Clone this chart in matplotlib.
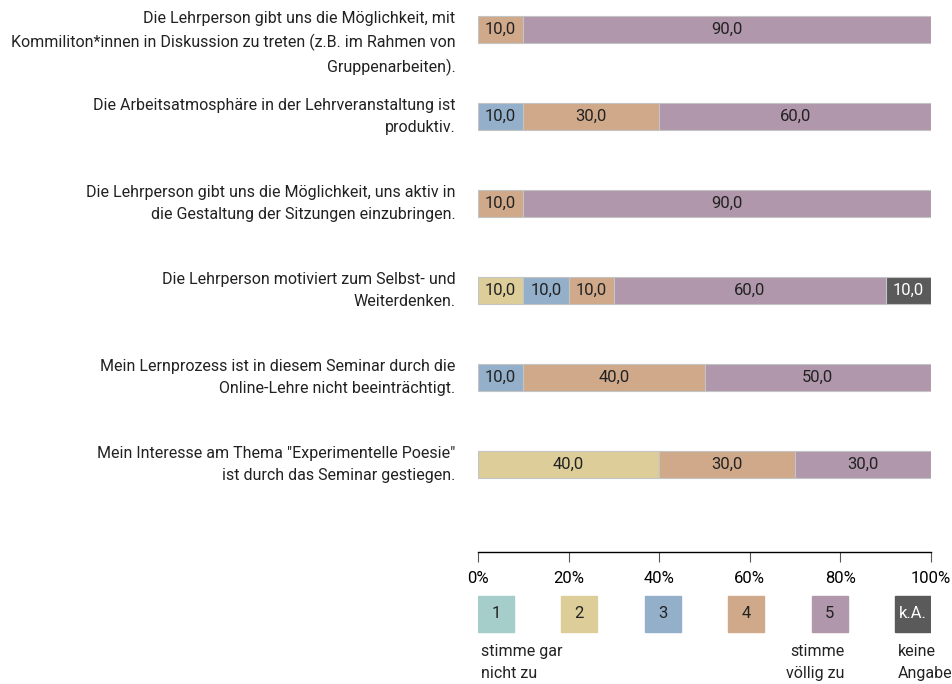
import numpy as np
import matplotlib.pyplot as plt
from matplotlib.patches import Rectangle

plt.rcParams['font.family'] = ['Roboto', 'DejaVu Sans']

questions = [
    "Die Lehrperson gibt uns die Möglichkeit, mit\nKommiliton*innen in Diskussion zu treten (z.B. im Rahmen von\nGruppenarbeiten).",
    "Die Arbeitsatmosphäre in der Lehrveranstaltung ist\nproduktiv.",
    "Die Lehrperson gibt uns die Möglichkeit, uns aktiv in\ndie Gestaltung der Sitzungen einzubringen.",
    "Die Lehrperson motiviert zum Selbst- und\nWeiterdenken.",
    "Mein Lernprozess ist in diesem Seminar durch die\nOnline-Lehre nicht beeinträchtigt.",
    "Mein Interesse am Thema \"Experimentelle Poesie\"\nist durch das Seminar gestiegen.",
]
categories = ["1", "2", "3", "4", "5", "k.A."]
cat_notes = ["stimme gar\nnicht zu", "", "", "", "stimme\nvöllig zu", "keine\nAngabe"]
colors = ["#a5cdc9", "#dccd99", "#93afc9", "#cfa98a", "#b097ab", "#5a5a5a"]

# percent per category (1, 2, 3, 4, 5, k.A.)
c1 = [0, 0, 0, 0, 0, 0]
c2 = [0, 0, 0, 10, 0, 40]
c3 = [0, 10, 0, 10, 10, 0]
c4 = [10, 30, 10, 10, 40, 30]
c5 = [90, 60, 90, 60, 50, 30]
ka = [0, 0, 0, 10, 0, 0]
values = np.array([c1, c2, c3, c4, c5, ka])

W, H = 953, 684
fig = plt.figure(figsize=(W / 100, H / 100), dpi=100)
x0, x1 = 478, 931
ax = fig.add_axes([x0 / W, 1 - 552 / H, (x1 - x0) / W, 552 / H])

y = np.arange(len(questions))
left = np.zeros(len(questions))
bh = 0.31
for i, cat in enumerate(categories):
    v = values[i]
    ax.barh(y, v, left=left, height=bh, color=colors[i],
            edgecolor="#c4c4c4", linewidth=0.8)
    for j in range(len(y)):
        if v[j] > 0:
            ax.text(left[j] + v[j] / 2, y[j], f"{v[j]:.1f}".replace(".", ","),
                    ha="center", va="center", fontsize=12,
                    color="white" if cat == "k.A." else "#222222")
    left += v

for j, q in enumerate(questions):
    ax.text(-5.0, y[j] - bh / 2 - 0.06, q, ha="right", va="top",
            fontsize=11.5, linespacing=1.6, color="#222222")

ax.set_xlim(0, 100)
ax.set_ylim(5 + 1.006, -0.339)
for s in ["top", "right", "left"]:
    ax.spines[s].set_visible(False)
ax.spines["bottom"].set_linewidth(1.0)
ax.set_yticks([])
ax.set_xticks(np.arange(0, 101, 20))
ax.set_xticklabels([f"{t}%" for t in range(0, 101, 20)], fontsize=12)
ax.tick_params(axis="x", length=7, color="#555555", pad=7)

# legend row
lg = fig.add_axes([x0 / W, 1 - 684 / H, (x1 - x0) / W, (684 - 590) / H])
lg.set_xlim(x0, x1)
lg.set_ylim(684, 590)
lg.axis("off")
box = 36
step = (x1 - x0 - box) / 5
for i, cat in enumerate(categories):
    bx = x0 + i * step
    lg.add_patch(Rectangle((bx, 596), box, 36, color=colors[i]))
    lg.text(bx + box / 2, 614, cat, ha="center", va="center", fontsize=12,
            color="white" if cat == "k.A." else "#222222")
    if cat_notes[i]:
        if i == 4:
            lg.text(bx + box - 3, 644, cat_notes[i], ha="right", va="top",
                    fontsize=11.5, linespacing=1.6, color="#222222")
        else:
            lg.text(bx + 3, 644, cat_notes[i], ha="left", va="top",
                    fontsize=11.5, linespacing=1.6, color="#222222")

fig.savefig("out.png", dpi=100)
